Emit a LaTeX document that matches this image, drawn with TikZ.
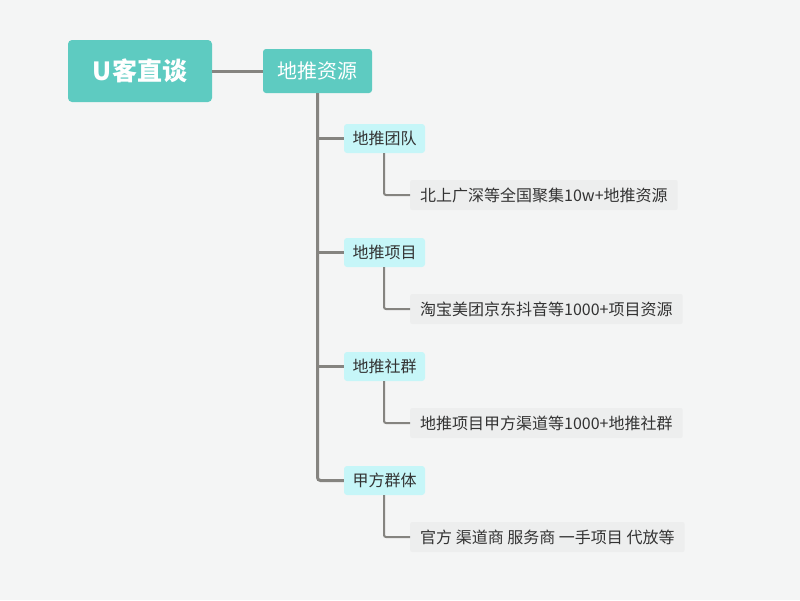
\documentclass[tikz,border=0pt]{standalone}
\usepackage{fontspec}
\setmainfont{Noto Sans CJK SC}
\newfontfamily\cjk{Noto Sans CJK SC}
\usetikzlibrary{positioning}
\definecolor{bgc}{HTML}{F4F5F5}
\definecolor{teal}{HTML}{5ECBC1}
\definecolor{cyanbox}{HTML}{C6F6F8}
\definecolor{leafbg}{HTML}{EDEEEE}
\definecolor{linec}{HTML}{858480}
\definecolor{txt}{HTML}{333333}
\tikzset{
  rootbox/.style={fill=teal, rounded corners=4pt, text=white, font=\cjk\bfseries\fontsize{25}{29}\selectfont, minimum width=144pt, minimum height=62pt, inner sep=0pt},
  mainbox/.style={fill=teal, rounded corners=3pt, text=white, font=\cjk\fontsize{20}{24}\selectfont, minimum width=109pt, minimum height=44pt, inner sep=0pt},
  subbox/.style={fill=cyanbox, rounded corners=3pt, text=txt, font=\cjk\fontsize{16}{19}\selectfont, minimum width=81pt, minimum height=29pt, inner sep=0pt},
  leafbox/.style={fill=leafbg, rounded corners=2pt, text=txt, font=\cjk\fontsize{16}{19}\selectfont, minimum height=30pt, inner xsep=10pt, inner ysep=0pt, anchor=west},
  trunk/.style={draw=linec, line width=3pt, rounded corners=3pt},
  twig/.style={draw=linec, line width=2pt, rounded corners=2pt},
}
\begin{document}
\begin{tikzpicture}[x=1pt,y=-1pt]
\fill[bgc] (0,0) rectangle (800,600);
\useasboundingbox (0,0) rectangle (800,600);
\node[rootbox] (root) at (140,71) {U客直谈};
\node[mainbox] (main) at (317.5,71) {地推资源};
\draw[trunk] (root.east) -- (main.west);

\node[subbox] (s1) at (384.5,138.5) {地推团队};
\node[subbox] (s2) at (384.5,252.5) {地推项目};
\node[subbox] (s3) at (384.5,366.5) {地推社群};
\node[subbox] (s4) at (384.5,480.5) {甲方群体};

\node[leafbox] (l1) at (410,195) {北上广深等全国聚集10w+地推资源};
\node[leafbox] (l2) at (410,309) {淘宝美团京东抖音等1000+项目资源};
\node[leafbox] (l3) at (410,423) {地推项目甲方渠道等1000+地推社群};
\node[leafbox] (l4) at (410,537) {官方 渠道商 服务商 一手项目 代放等};

\draw[trunk] (main.south) -- (main.south |- s4.west) -- (s4.west);
\foreach \s in {s1,s2,s3}{
  \draw[trunk] (main.south |- \s.west) -- (\s.west);
}
\foreach \s/\l in {s1/l1,s2/l2,s3/l3,s4/l4}{
  \draw[twig] ([xshift=-0.5pt]\s.south) -- ([xshift=-0.5pt]\s.south |- \l.west) -- (\l.west);
}
\end{tikzpicture}
\end{document}
